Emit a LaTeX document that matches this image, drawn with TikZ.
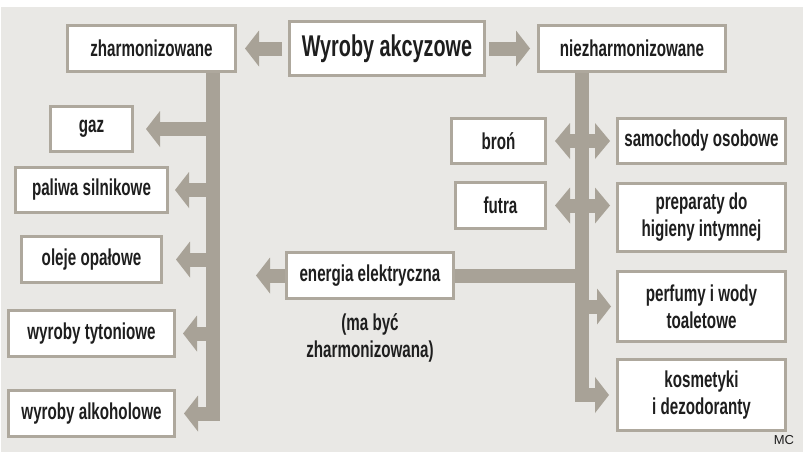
\documentclass[tikz,border=0pt]{standalone}
\usepackage{fontspec}
\setmainfont{Liberation Sans}[FakeStretch=0.66]
\newfontfamily\mcfont{Liberation Sans}
\usetikzlibrary{arrows.meta}
\definecolor{bgc}{RGB}{233,232,229}
\definecolor{barc}{RGB}{168,162,151}
\definecolor{edgec}{RGB}{174,168,157}
\definecolor{textc}{RGB}{30,30,30}
\begin{document}
\begin{tikzpicture}[x=1pt,y=-1pt,
  box/.style={draw=edgec,line width=3pt,fill=white,inner sep=0pt,align=center,text=textc,
    font=\bfseries\fontsize{23}{27}\selectfont},
  bar/.style={draw=barc,line width=14pt},
  head/.style={bar,-{Triangle[width=36pt,length=14pt,line width=0pt]}},
  both/.style={bar,{Triangle[width=36pt,length=15pt,line width=0pt]}-{Triangle[width=36pt,length=15pt,line width=0pt]}}]
 \useasboundingbox (0,0) rectangle (805,456);
 \fill[bgc] (1,7) rectangle (803,452);
 % top row
 \node[box,minimum width=195pt,minimum height=54pt,font=\bfseries\fontsize{30}{32}\selectfont] (wyroby) at (387,48.5) {Wyroby akcyzowe};
 \node[box,minimum width=168pt,minimum height=46pt] (zharm) at (151.5,48.5) {zharmonizowane};
 \node[box,minimum width=187pt,minimum height=46pt] (niezh) at (632,48.5) {niezharmonizowane};
 % left column
 \node[box,minimum width=82pt,minimum height=45pt] (gaz) at (91.5,129) {gaz};
 \node[box,minimum width=152pt,minimum height=45pt] (paliwa) at (91.5,190) {paliwa silnikowe};
 \node[box,minimum width=140pt,minimum height=46pt] (oleje) at (91.5,259.5) {oleje opałowe};
 \node[box,minimum width=166pt,minimum height=46pt] (tyton) at (91.5,333.5) {wyroby tytoniowe};
 \node[box,minimum width=166pt,minimum height=46pt] (alkohol) at (91.5,413.5) {wyroby alkoholowe};
 % right side
 \node[box,minimum width=94pt,minimum height=45pt] (bron) at (498.5,141) {broń};
 \node[box,minimum width=90pt,minimum height=46pt] (futra) at (500.5,205.5) {futra};
 \node[box,minimum width=168pt,minimum height=45pt] (samo) at (701.5,141) {samochody osobowe};
 \node[box,minimum width=168pt,minimum height=68pt] (prep) at (701.5,217.5) {preparaty do\\higieny intymnej};
 \node[box,minimum width=168pt,minimum height=70pt] (perf) at (701.5,306.5) {perfumy i wody\\toaletowe};
 \node[box,minimum width=168pt,minimum height=71pt] (kosm) at (701.5,395) {kosmetyki\\i dezodoranty};
 % energia
 \node[box,minimum width=167pt,minimum height=46pt] (energia) at (370,275.5) {energia elektryczna};
 \node[align=center,text=textc,font=\bfseries\fontsize{23}{27}\selectfont] (uwaga) at (370,338) {(ma być\\zharmonizowana)};
 \node[text=textc,font=\mcfont\fontsize{13}{15}\selectfont] (mc) at (784,440) {MC};
 \coordinate (lx) at (213,0);
 \coordinate (rx) at (582,0);
 \coordinate (enend) at (256,275.5);
 % arrows
 \draw[head,shorten <=6pt,shorten >=8pt] (wyroby.west) -- (zharm.east);
 \draw[head,shorten <=3pt,shorten >=7pt] (wyroby.east) -- (niezh.west);
 \draw[head,shorten >=8pt] (zharm.south -| lx) |- (alkohol.east);
 \draw[head,shorten >=12pt] (gaz -| lx) -- (gaz.east);
 \draw[head,shorten >=6pt] (paliwa -| lx) -- (paliwa.east);
 \draw[head,shorten >=13pt] (oleje -| lx) -- (oleje.east);
 \draw[head,shorten >=7pt] (tyton -| lx) -- (tyton.east);
 \draw[head,shorten >=7pt] (niezh.south -| rx) |- (kosm.west);
 \draw[head,shorten >=5pt] (perf -| rx) -- (perf.west);
 \draw[bar] (energia.east) -- (energia -| rx);
 \draw[head] (energia.west) -- (enend);
 \draw[both,shorten <=8pt,shorten >=6pt] (bron.east) -- (samo.west);
 \draw[both,shorten <=8pt,shorten >=6pt] (futra.east) -- (futra.east -| samo.west);
\end{tikzpicture}
\end{document}
